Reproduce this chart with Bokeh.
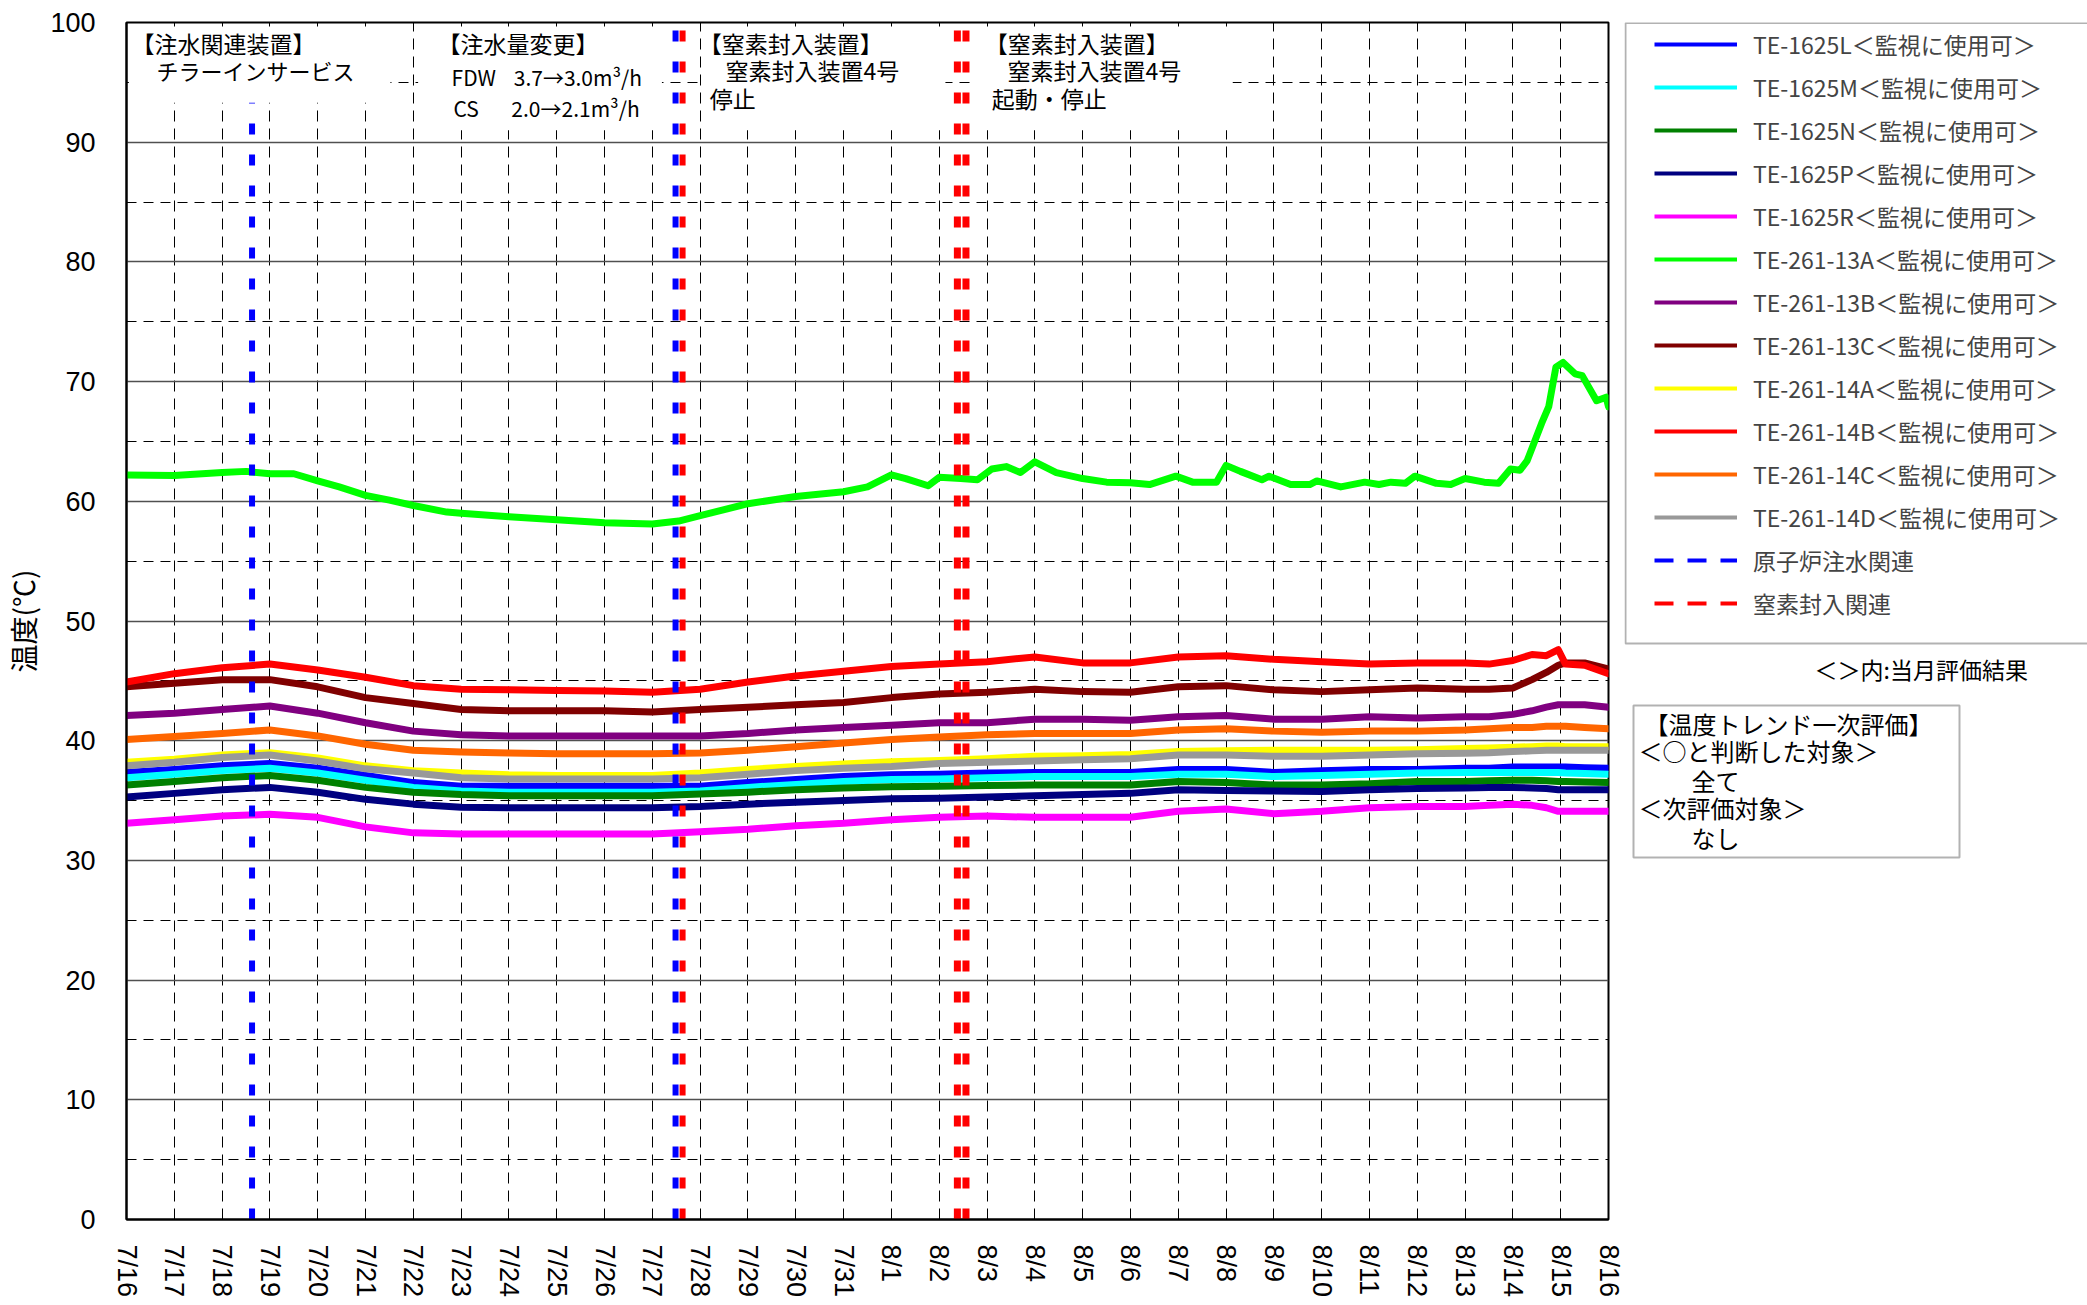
import math
from bokeh.plotting import figure
from bokeh.layouts import row
from bokeh.models import Range1d, FixedTicker, Legend, LegendItem, BoxAnnotation, Label
from bokeh.embed import file_html
from bokeh.resources import INLINE

# ---------------- data ----------------
date_labels = ["7/16", "7/17", "7/18", "7/19", "7/20", "7/21", "7/22", "7/23", "7/24", "7/25",
               "7/26", "7/27", "7/28", "7/29", "7/30", "7/31", "8/1", "8/2", "8/3", "8/4",
               "8/5", "8/6", "8/7", "8/8", "8/9", "8/10", "8/11", "8/12", "8/13", "8/14",
               "8/15", "8/16"]
y_major = [0, 10, 20, 30, 40, 50, 60, 70, 80, 90, 100]
y_minor = [5, 15, 25, 35, 45, 55, 65, 75, 85, 95]

# days since 7/16 0:00
t = [0, 1, 2, 3, 4, 5, 6, 7, 8, 9, 10, 11, 12, 13, 14, 15, 16, 17, 18, 19, 20, 21, 22, 23,
     24, 25, 26, 27, 28, 28.5, 29, 29.4, 29.7, 29.95, 30.1, 30.5, 31]

te_1625L = [37.35, 37.6, 37.9, 38.1, 37.7, 37.1, 36.5, 36.2, 36.2, 36.2, 36.2, 36.2, 36.2, 36.5,
            36.75, 37.0, 37.15, 37.2, 37.3, 37.35, 37.35, 37.35, 37.6, 37.6, 37.35, 37.5, 37.6,
            37.6, 37.7, 37.7, 37.8, 37.8, 37.8, 37.8, 37.8, 37.75, 37.7]
te_1625M = [36.9, 37.2, 37.5, 37.7, 37.3, 36.7, 36.1, 35.8, 35.7, 35.7, 35.7, 35.7, 35.8, 36.1,
            36.35, 36.6, 36.75, 36.8, 36.9, 37.0, 37.0, 37.0, 37.2, 37.2, 37.0, 37.1, 37.2,
            37.3, 37.35, 37.35, 37.35, 37.35, 37.35, 37.35, 37.3, 37.25, 37.2]
te_1625N = [36.3, 36.6, 36.9, 37.1, 36.7, 36.1, 35.7, 35.5, 35.4, 35.4, 35.4, 35.4, 35.55, 35.7,
            35.9, 36.05, 36.15, 36.2, 36.25, 36.3, 36.3, 36.3, 36.6, 36.5, 36.3, 36.3, 36.4,
            36.6, 36.6, 36.65, 36.7, 36.7, 36.65, 36.6, 36.6, 36.55, 36.5]
te_1625P = [35.3, 35.6, 35.9, 36.1, 35.7, 35.1, 34.7, 34.45, 34.4, 34.4, 34.4, 34.4, 34.5, 34.7,
            34.85, 35.0, 35.15, 35.2, 35.3, 35.4, 35.5, 35.6, 35.9, 35.85, 35.8, 35.75, 35.9,
            36.0, 36.05, 36.1, 36.1, 36.05, 36.0, 35.9, 35.9, 35.9, 35.9]
te_1625R = [33.1, 33.4, 33.7, 33.85, 33.6, 32.8, 32.3, 32.2, 32.2, 32.2, 32.2, 32.2, 32.4, 32.6,
            32.9, 33.1, 33.4, 33.6, 33.7, 33.6, 33.6, 33.6, 34.1, 34.3, 33.9, 34.1, 34.4,
            34.5, 34.5, 34.6, 34.7, 34.6, 34.4, 34.1, 34.1, 34.1, 34.1]
te_261_13B = [42.1, 42.3, 42.6, 42.9, 42.3, 41.5, 40.8, 40.5, 40.4, 40.4, 40.4, 40.4, 40.4, 40.6,
              40.9, 41.1, 41.3, 41.5, 41.5, 41.8, 41.8, 41.7, 42.0, 42.1, 41.8, 41.8, 42.0,
              41.9, 42.0, 42.0, 42.2, 42.5, 42.8, 43.0, 43.0, 43.0, 42.8]
te_261_13C = [44.5, 44.8, 45.1, 45.1, 44.5, 43.6, 43.1, 42.6, 42.5, 42.5, 42.5, 42.4, 42.6, 42.8,
              43.0, 43.2, 43.6, 43.9, 44.05, 44.3, 44.1, 44.05, 44.5, 44.6, 44.25, 44.1, 44.25,
              44.4, 44.3, 44.3, 44.4, 45.1, 45.7, 46.3, 46.5, 46.5, 46.0]
te_261_14A = [38.2, 38.45, 38.8, 39.0, 38.55, 37.9, 37.5, 37.3, 37.15, 37.1, 37.1, 37.1, 37.3, 37.6,
              37.85, 38.05, 38.25, 38.35, 38.5, 38.7, 38.75, 38.85, 39.1, 39.15, 39.2, 39.2, 39.2,
              39.25, 39.35, 39.4, 39.45, 39.5, 39.55, 39.55, 39.5, 39.5, 39.5]
te_261_14B = [44.9, 45.6, 46.1, 46.4, 45.9, 45.3, 44.6, 44.3, 44.25, 44.2, 44.15, 44.05, 44.3, 44.9,
              45.4, 45.8, 46.2, 46.4, 46.6, 47.0, 46.5, 46.5, 47.0, 47.1, 46.8, 46.6, 46.4,
              46.5, 46.5, 46.4, 46.7, 47.2, 47.1, 47.6, 46.4, 46.3, 45.6]
te_261_14C = [40.1, 40.35, 40.6, 40.9, 40.4, 39.7, 39.2, 39.05, 38.97, 38.9, 38.9, 38.9, 38.97, 39.2,
              39.5, 39.8, 40.1, 40.3, 40.5, 40.6, 40.6, 40.6, 40.9, 41.0, 40.8, 40.7, 40.8,
              40.8, 40.9, 41.0, 41.1, 41.1, 41.2, 41.2, 41.2, 41.1, 41.0]
te_261_14D = [37.9, 38.2, 38.6, 38.8, 38.3, 37.65, 37.3, 36.9, 36.8, 36.8, 36.8, 36.8, 36.9, 37.2,
              37.5, 37.7, 37.85, 38.1, 38.2, 38.3, 38.4, 38.5, 38.8, 38.8, 38.7, 38.7, 38.8,
              38.9, 38.95, 39.0, 39.1, 39.15, 39.2, 39.2, 39.2, 39.2, 39.2]

t_13A = [0, 1, 2, 2.5, 3, 3.5, 4, 4.45, 5, 5.5, 6, 6.7, 7, 8, 9, 10, 11, 11.55, 12, 13,
         14, 15, 15.5, 16, 16.3, 16.77, 17, 17.45, 17.8, 18.1, 18.4, 18.7, 19, 19.45, 20, 20.5,
         21, 21.4, 21.95, 22.3, 22.8, 23, 23.3, 23.75, 23.9, 24.35, 24.75, 24.9, 25.4, 25.9,
         26.2, 26.45, 26.75, 26.95, 27.4, 27.7, 28, 28.4, 28.7, 28.95, 29.15, 29.3, 29.6, 29.75,
         29.9, 30.05, 30.3, 30.45, 30.75, 30.95, 31]
te_261_13A = [62.2, 62.15, 62.4, 62.5, 62.3, 62.3, 61.7, 61.2, 60.5, 60.1, 59.65, 59.1, 59.0, 58.7,
              58.45, 58.2, 58.1, 58.35, 58.8, 59.8, 60.4, 60.8, 61.2, 62.2, 61.9, 61.3, 62.0,
              61.9, 61.8, 62.7, 62.9, 62.4, 63.3, 62.4, 61.9, 61.6, 61.55, 61.4, 62.1, 61.6,
              61.6, 63.0, 62.5, 61.8, 62.1, 61.4, 61.4, 61.7, 61.2, 61.6, 61.4, 61.6, 61.5,
              62.1, 61.5, 61.4, 61.9, 61.6, 61.5, 62.7, 62.6, 63.4, 66.5, 67.9, 71.2, 71.6,
              70.65, 70.5, 68.4, 68.7, 67.9]

series_names = ["TE-1625L", "TE-1625M", "TE-1625N", "TE-1625P", "TE-1625R", "TE-261-13A",
                "TE-261-13B", "TE-261-13C", "TE-261-14A", "TE-261-14B", "TE-261-14C", "TE-261-14D"]
series_x = [t, t, t, t, t, t_13A, t, t, t, t, t, t]
series_y = [te_1625L, te_1625M, te_1625N, te_1625P, te_1625R, te_261_13A,
            te_261_13B, te_261_13C, te_261_14A, te_261_14B, te_261_14C, te_261_14D]
series_status = "＜監視に使用可＞"

# event lines (days since 7/16)
water_events = [2.626, 11.485]
n2_events = [11.632, 17.38, 17.56]

# ---------------- styles ----------------
colors = ["#0000FF", "#00FFFF", "#008000", "#000080", "#FF00FF", "#00FF00",
          "#800080", "#800000", "#FFFF00", "#FF0000", "#FF6600", "#999999"]
JP = "Noto Sans CJK JP"
W_MAIN, W_SIDE, H = 1624, 463, 1305
B_TOP, B_BOTTOM = 22, 86

p = figure(width=W_MAIN, height=H, x_range=Range1d(0, 31), y_range=Range1d(0, 100),
           output_backend="svg", toolbar_location=None,
           min_border_left=126, min_border_right=16, min_border_top=B_TOP, min_border_bottom=B_BOTTOM,
           background_fill_color="white", border_fill_color="white",
           outline_line_color="black", outline_line_width=2)

# grids
p.xgrid.ticker = FixedTicker(ticks=list(range(1, len(date_labels) - 1)))
p.xgrid.grid_line_color = "black"
p.xgrid.grid_line_width = 1
p.xgrid.grid_line_dash = "11 7"
p.ygrid.ticker = FixedTicker(ticks=y_major[1:-1], minor_ticks=y_minor)
p.ygrid.grid_line_color = "#505050"
p.ygrid.grid_line_width = 1.5
p.ygrid.minor_grid_line_color = "black"
p.ygrid.minor_grid_line_width = 1
p.ygrid.minor_grid_line_dash = "10 7"

# axes
p.xaxis.ticker = FixedTicker(ticks=list(range(len(date_labels))))
p.xaxis.major_label_overrides = {i: lab for i, lab in enumerate(date_labels)}
p.xaxis.major_label_orientation = -math.pi / 2
p.yaxis.ticker = FixedTicker(ticks=y_major, minor_ticks=[])
for ax in (p.xaxis[0], p.yaxis[0]):
    ax.major_tick_in = 0
    ax.major_tick_out = 0
    ax.minor_tick_in = 0
    ax.minor_tick_out = 0
    ax.axis_line_color = "black"
    ax.axis_line_width = 2
    ax.major_label_text_font = "Liberation Sans"
    ax.major_label_text_color = "black"
p.xaxis.major_label_text_font_size = "27px"
p.xaxis.major_label_standoff = 25
p.yaxis.major_label_text_font_size = "27px"
p.yaxis.major_label_standoff = 31
p.yaxis.axis_label = "温度(℃)"
p.yaxis.axis_label_text_font = JP
p.yaxis.axis_label_text_font_size = "28px"
p.yaxis.axis_label_text_font_style = "normal"
p.yaxis.axis_label_text_color = "black"
p.yaxis.axis_label_standoff = 4

# data lines
for xs, ys, c in zip(series_x, series_y, colors):
    p.line(x=xs, y=ys, line_color=c, line_width=7, line_join="round", line_cap="round")

# event lines
p.segment(x0=water_events, y0=[0] * len(water_events), x1=water_events, y1=[100] * len(water_events),
          line_color="#0000FF", line_width=6, line_dash="11 20")
p.segment(x0=n2_events, y0=[0] * len(n2_events), x1=n2_events, y1=[100] * len(n2_events),
          line_color="#FF0000", line_width=[6, 7, 7], line_dash="11 20")

# annotation boxes (white)
for l, r, b, tp in [(0.05, 5.52, 93.3, 99.67), (6.1, 11.2, 91.0, 99.67),
                    (12.07, 17.13, 91.0, 99.67), (17.76, 23.14, 91.0, 99.67)]:
    p.add_layout(BoxAnnotation(left=l, right=r, bottom=b, top=tp, fill_color="white",
                               fill_alpha=1, line_alpha=0))

def lab(fig, x, y, text, size="23px", font=JP):
    fig.add_layout(Label(x=x, y=y, text=text, text_font=font, text_font_size=size,
                         text_baseline="middle", text_align="left", text_color="black"))

lab(p, 0.105, 98.25, "【注水関連装置】")
lab(p, 0.63, 95.99, "チラーインサービス", "22px")
lab(p, 6.506, 98.25, "【注水量変更】")
lab(p, 6.80, 95.41, "FDW", "21px")
lab(p, 8.10, 95.41, "3.7→3.0m³/h", "21px")
lab(p, 6.84, 92.82, "CS", "21px")
lab(p, 8.05, 92.82, "2.0→2.1m³/h", "21px")
lab(p, 11.97, 98.25, "【窒素封入装置】")
lab(p, 12.53, 95.99, "窒素封入装置4号")
lab(p, 12.20, 93.73, "停止")
lab(p, 17.95, 98.25, "【窒素封入装置】")
lab(p, 18.43, 95.99, "窒素封入装置4号")
lab(p, 18.10, 93.73, "起動・停止")

# ---------------- right panel: legend & notes (data units = pixels) ----------------
p2 = figure(width=W_SIDE, height=H, x_range=Range1d(0, W_SIDE), y_range=Range1d(H - B_BOTTOM, B_TOP),
            output_backend="svg", toolbar_location=None,
            min_border_left=0, min_border_right=0, min_border_top=B_TOP, min_border_bottom=B_BOTTOM,
            x_axis_location=None, y_axis_location=None, outline_line_color=None,
            background_fill_color="white", border_fill_color="white")
p2.xgrid.visible = False
p2.ygrid.visible = False

# legend frame
p2.add_layout(BoxAnnotation(left=1, right=520, bottom=643, top=22.6, fill_alpha=0,
                            line_color="black", line_width=2))

off = [-60, -50]  # kept outside the visible range; only used for legend swatches
items = []
for name, c in zip(series_names, colors):
    r = p2.line(x=off, y=off, line_color=c, line_width=4)
    items.append(LegendItem(label=name + series_status, renderers=[r]))
rw = p2.line(x=off, y=off, line_color="#0000FF", line_width=4, line_dash="19 14")
items.append(LegendItem(label="原子炉注水関連", renderers=[rw]))
rn = p2.line(x=off, y=off, line_color="#FF0000", line_width=4, line_dash="19 14")
items.append(LegendItem(label="窒素封入関連", renderers=[rn]))
legend = Legend(items=items, location=(22, 591), label_text_font=JP, label_text_font_size="23px",
                label_text_baseline="middle", glyph_width=83, glyph_height=34, label_height=34,
                label_width=300, spacing=9, padding=8, label_standoff=16,
                border_line_alpha=0, background_fill_alpha=0, margin=0)
p2.add_layout(legend)

lab(p2, 190, 668, "＜＞内:当月評価結果", "23px")

p2.add_layout(BoxAnnotation(left=9, right=335, bottom=857, top=705, fill_color="white",
                            fill_alpha=1, line_color="black", line_width=2))
lab(p2, 20, 723, "【温度トレンド一次評価】", "24px")
lab(p2, 14, 750, "＜○と判断した対象＞", "24px")
lab(p2, 67, 780, "全て", "24px")
lab(p2, 14, 807, "＜次評価対象＞", "24px")
lab(p2, 67, 837, "なし", "24px")

layout = row(p, p2)
open("out.html", "w").write(file_html(layout, INLINE))
